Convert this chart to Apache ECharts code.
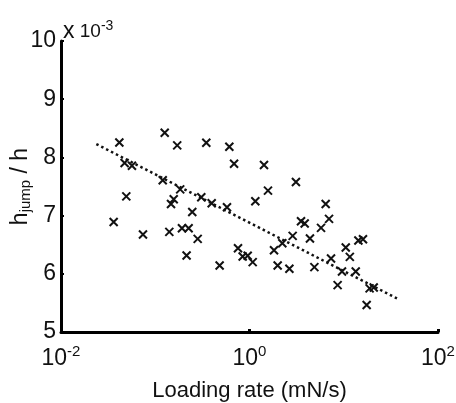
<!DOCTYPE html>
<html><head><meta charset="utf-8">
<script src="https://cdn.jsdelivr.net/npm/echarts@6/dist/echarts.min.js"></script>
<style>html,body{margin:0;padding:0;background:#fff}#c{width:456px;height:403px}</style>
</head><body><div id="c"></div>
<script>
// Loading rate (mN/s), log scale
const loadingRate = [0.0416,0.0362,0.0473,0.0566,0.0493,0.0741,0.126,0.120,0.171,0.141,0.147,0.157,0.184,0.192,0.226,0.247,0.215,0.282,0.308,0.348,0.397,0.482,0.577,0.611,0.686,0.755,0.846,0.957,1.081,1.153,1.425,1.571,1.82,1.99,2.23,2.65,2.87,3.11,3.52,3.85,4.38,4.88,5.74,6.43,6.98,7.33,8.61,9.58,10.5,11.6,13.4,14.3,16.0,17.5,18.8,20.8];
// h_jump / h (x 10^-3)
const hRatio = [8.257,6.891,7.903,7.857,7.331,6.674,8.423,7.606,8.206,6.72,7.2,7.28,7.451,6.783,6.783,7.063,6.314,6.6,7.314,8.251,7.211,6.143,7.143,8.183,7.891,6.44,6.297,6.309,6.2,7.246,7.869,7.429,6.406,6.143,6.526,6.086,6.651,7.577,6.903,6.863,6.606,6.114,6.789,7.2,6.943,6.263,5.806,6.04,6.451,6.291,6.04,6.571,6.594,5.463,5.749,5.766];
// trend line endpoints
const trendX = [0.0237, 36.7];
const trendY = [8.229, 5.577];
const xTicks = [0.01, 1, 100];
const yTicks = [5, 6, 7, 8, 9, 10];

const chart = echarts.init(document.getElementById('c'));
const font = 'Liberation Sans, Arial, sans-serif';
chart.setOption({
  animation: false,
  backgroundColor: '#fff',
  grid: {left: 61, right: 18, top: 41, bottom: 71, containLabel: false, outerBoundsMode: 'none'},
  title: {
    text: '{a|x}{b| 10}{s|-3}',
    left: 58, top: 14,
    textStyle: {
      fontFamily: font, fontWeight: 'normal',
      rich: {
        a: {fontSize: 23, color: '#111', fontFamily: font, fontWeight: 'normal'},
        b: {fontSize: 19, color: '#111', fontFamily: font, fontWeight: 'normal'},
        s: {fontSize: 14, color: '#111', fontFamily: font, fontWeight: 'normal', padding: [0,0,12,0]}
      }
    }
  },
  xAxis: {
    type: 'log', logBase: 10, min: xTicks[0], max: xTicks[xTicks.length-1], interval: 2,
    name: 'Loading rate (mN/s)', nameLocation: 'middle', nameGap: 48,
    nameMoveOverlap: false,
    nameTextStyle: {fontFamily: font, fontSize: 22, color: '#111'},
    axisLine: {lineStyle: {color: '#000', width: 3}},
    axisTick: {inside: true, length: 3, lineStyle: {color: '#000', width: 3}},
    splitLine: {show: false},
    axisLabel: {
      margin: 12,
      formatter: v => xTicks.some(t => Math.abs(t - v) / t < 1e-6) ? '{b|10}{s|' + Math.round(Math.log10(v)) + '}' : '',
      rich: {
        b: {fontSize: 23, color: '#111', fontFamily: font},
        s: {fontSize: 15, color: '#111', fontFamily: font, padding: [0,0,14,0]}
      }
    }
  },
  yAxis: {
    type: 'value', min: yTicks[0], max: yTicks[yTicks.length-1], interval: 1,
    name: '{a|h}{sub|jump}{a| / h}', nameLocation: 'middle', nameGap: 28, nameRotate: 90,
    nameMoveOverlap: false,
    nameTextStyle: {
      rich: {
        a: {fontSize: 23, color: '#111', fontFamily: font},
        sub: {fontSize: 15, color: '#111', fontFamily: font, padding: [10,0,0,0]}
      }
    },
    axisLine: {show: true, lineStyle: {color: '#000', width: 3}},
    axisTick: {show: true, inside: true, length: 3, lineStyle: {color: '#000', width: 2}},
    splitLine: {show: false},
    axisLabel: {margin: 5, fontSize: 23, color: '#111', fontFamily: font}
  },
  series: [
    {
      type: 'scatter',
      data: loadingRate.map((x, i) => [x, hRatio[i]]),
      symbol: 'path://M0,0L10,10M10,0L0,10',
      symbolSize: 8,
      itemStyle: {color: 'transparent', borderColor: '#111', borderWidth: 2, opacity: 1},
      z: 3
    },
    {
      type: 'line',
      data: trendX.map((x, i) => [x, trendY[i]]),
      symbol: 'none',
      lineStyle: {color: '#111', width: 2.5, type: [2.5, 3]},
      z: 2
    }
  ]
});
</script></body></html>
